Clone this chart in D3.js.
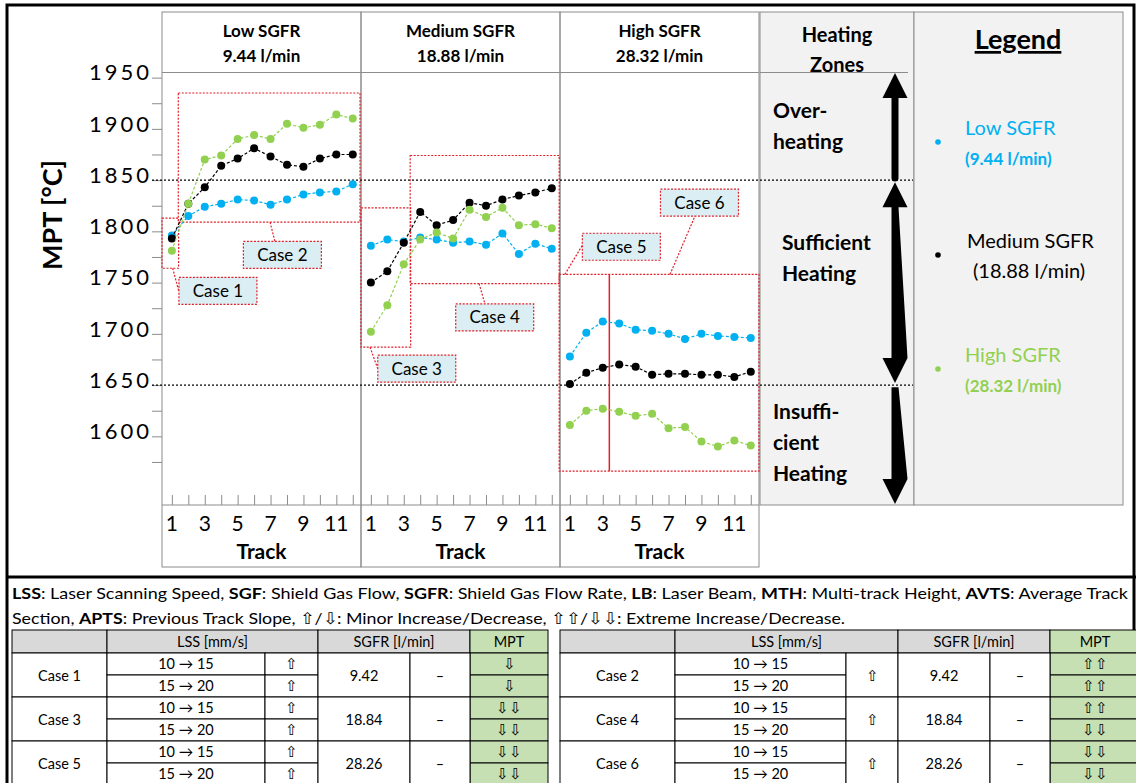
<!DOCTYPE html>
<html>
<head>
<meta charset="utf-8">
<script src="https://cdn.jsdelivr.net/npm/d3@7/dist/d3.min.js"></script>
<style>
body { margin: 0; background: #fff; }
text { font-family: Lato, "Open Sans", sans-serif; }
</style>
</head>
<body>
<div id="chart-area"></div>
<script>
// data
var tracks = [1, 2, 3, 4, 5, 6, 7, 8, 9, 10, 11, 12];
var trackLabels = [1, 3, 5, 7, 9, 11];
var panelTitles = ["Low SGFR", "Medium SGFR", "High SGFR"];
var panelRates = ["9.44 l/min", "18.88 l/min", "28.32 l/min"];

var lowPanelBlue  = [1796, 1815, 1824, 1827, 1831, 1830, 1826, 1831, 1836, 1838, 1839, 1846];
var lowPanelBlack = [1793, 1827, 1843, 1864, 1871, 1881, 1873, 1865, 1863, 1871, 1875, 1875];
var lowPanelGreen = [1781, 1827, 1870, 1874, 1890, 1894, 1890, 1905, 1901, 1904, 1914, 1910];

var medPanelBlue  = [1786, 1792, 1790, 1794, 1792, 1789, 1790, 1787, 1798, 1778, 1788, 1783];
var medPanelBlack = [1750, 1761, 1789, 1819, 1806, 1811, 1828, 1825, 1831, 1835, 1838, 1842];
var medPanelGreen = [1702, 1728, 1768, 1792, 1799, 1793, 1821, 1814, 1823, 1806, 1807, 1803];

var highPanelBlue  = [1678, 1701, 1712, 1710, 1704, 1703, 1700, 1695, 1700, 1698, 1697, 1696];
var highPanelBlack = [1651, 1662, 1667, 1670, 1668, 1660, 1661, 1661, 1660, 1660, 1658, 1663];
var highPanelGreen = [1611, 1625, 1627, 1624, 1620, 1622, 1608, 1609, 1595, 1590, 1596, 1591];

var yTicks = [1575, 1600, 1625, 1650, 1675, 1700, 1725, 1750, 1775, 1800, 1825, 1850, 1875, 1900, 1925, 1950];
var zoneLimits = [1850, 1650];

var legendNames = ["Low SGFR", "Medium SGFR", "High SGFR"];
var legendRates = ["(9.44 l/min)", "(18.88 l/min)", "(28.32 l/min)"];

var caseNamesLeft  = ["Case 1", "Case 3", "Case 5"];
var caseNamesRight = ["Case 2", "Case 4", "Case 6"];
var lssSteps = ["10 \u2192 15", "15 \u2192 20"];
var sgfrValues = ["9.42", "18.84", "28.26"];
var mptLeft  = [["\u21e9", "\u21e9"], ["\u21e9\u21e9", "\u21e9\u21e9"], ["\u21e9\u21e9", "\u21e9\u21e9"]];
var mptRight = [["\u21e7\u21e7", "\u21e7\u21e7"], ["\u21e7\u21e7", "\u21e9\u21e9"], ["\u21e9\u21e9", "\u21e9\u21e9"]];

var colors = { blue: "#00b0f0", black: "#000000", green: "#92d050" };
var gridGrey = "#8c8c8c";

var svgWidth = 1136, svgHeight = 783;
var panelLefts = [162, 361, 560];
var panelWidth = 199;
var headTop = 12, plotTop = 72.5, plotBottom = 505, axisBottom = 567;

var svg = d3.select("#chart-area").append("svg")
    .attr("width", svgWidth)
    .attr("height", svgHeight);

var y = d3.scaleLinear().domain([1533, 1955]).range([plotBottom, plotTop]);

var panelSeries = [
    [lowPanelBlue, lowPanelBlack, lowPanelGreen],
    [medPanelBlue, medPanelBlack, medPanelGreen],
    [highPanelBlue, highPanelBlack, highPanelGreen]
];
var seriesColors = [colors.blue, colors.black, colors.green];

var xScales = panelLefts.map(function(l) {
    return d3.scaleLinear().domain([0.4, 12.5]).range([l, l + panelWidth]);
});

// outer frame
svg.append("rect").attr("x", 7).attr("y", 5).attr("width", 1127).attr("height", 800)
    .attr("fill", "none").attr("stroke", "#000").attr("stroke-width", 3);
svg.append("line").attr("x1", 7).attr("x2", 1136).attr("y1", 577).attr("y2", 577)
    .attr("stroke", "#000").attr("stroke-width", 3);

// heating zones + legend background
svg.append("rect").attr("x", 760).attr("y", headTop).attr("width", 154).attr("height", plotBottom - headTop)
    .attr("fill", "#f2f2f2").attr("stroke", gridGrey);
svg.append("rect").attr("x", 914).attr("y", headTop).attr("width", 209).attr("height", plotBottom - headTop)
    .attr("fill", "#f2f2f2").attr("stroke", gridGrey);
svg.append("line").attr("x1", 760).attr("x2", 908).attr("y1", plotTop).attr("y2", plotTop)
    .attr("stroke", gridGrey);

// panel frames
panelLefts.forEach(function(l, i) {
    svg.append("rect").attr("x", l).attr("y", headTop).attr("width", panelWidth)
        .attr("height", axisBottom - headTop).attr("fill", "none").attr("stroke", gridGrey);
    svg.append("line").attr("x1", l).attr("x2", l + panelWidth)
        .attr("y1", plotTop).attr("y2", plotTop).attr("stroke", gridGrey);
    svg.append("line").attr("x1", l).attr("x2", l + panelWidth)
        .attr("y1", plotBottom).attr("y2", plotBottom).attr("stroke", gridGrey);
    svg.append("text").attr("x", l + panelWidth / 2).attr("y", 37)
        .attr("text-anchor", "middle").attr("font-size", "17px").attr("font-weight", "bold")
        .text(panelTitles[i]);
    svg.append("text").attr("x", l + panelWidth / 2).attr("y", 62)
        .attr("text-anchor", "middle").attr("font-size", "17px").attr("font-weight", "bold")
        .text(panelRates[i]);

    // x axis of each panel
    var xAxis = d3.axisTop(xScales[i]).tickValues(tracks).tickSize(10).tickFormat("");
    var g = svg.append("g").attr("transform", "translate(0," + plotBottom + ")").call(xAxis);
    g.select(".domain").remove();
    g.selectAll("line").attr("stroke", gridGrey);

    svg.append("g").selectAll("text").data(trackLabels).enter().append("text")
        .attr("x", function(d) { return xScales[i](d); })
        .attr("y", 531).attr("text-anchor", "middle").attr("font-size", "21px")
        .text(function(d) { return d; });
    svg.append("text").attr("x", l + panelWidth / 2).attr("y", 559)
        .attr("text-anchor", "middle").attr("font-size", "21px").attr("font-weight", "bold")
        .text("Track");
});

// y axis
var yAxis = d3.axisLeft(y).tickValues(yTicks).tickSize(10)
    .tickFormat(function(d) { return (d % 50 === 0) ? d : ""; });
var yg = svg.append("g").attr("transform", "translate(162,0)").call(yAxis);
yg.select(".domain").remove();
yg.selectAll("line").attr("stroke", gridGrey);
yg.selectAll("text").attr("font-size", "22px").attr("letter-spacing", "3px")
    .attr("font-family", "Lato, sans-serif").attr("fill", "#000").attr("x", -10).attr("dy", "0.1em");

svg.append("text").attr("transform", "translate(62,215) rotate(-90)")
    .attr("text-anchor", "middle").attr("font-size", "27px").attr("font-weight", "bold")
    .text("MPT [\u00b0C]");

// zone limit lines
svg.selectAll(".zone").data(zoneLimits).enter().append("line")
    .attr("x1", 152).attr("x2", 913)
    .attr("y1", function(d) { return y(d); }).attr("y2", function(d) { return y(d); })
    .attr("stroke", "#000").attr("stroke-width", 1.2).attr("stroke-dasharray", "2,2");

// case annotations (box in track/value units, label centre, connector)
var cases = [
    { p: 0, name: "Case 1", box: [0.4, 1.41, 1764, 1813], label: [3.8, 1742], link: [1.05, 1764, 1.43, 1741] },
    { p: 0, name: "Case 2", box: [1.39, 12.44, 1809, 1935], label: [7.72, 1777], link: [6.97, 1809, 7.27, 1790] },
    { p: 1, name: "Case 3", box: [0.4, 3.42, 1687, 1823], label: [3.79, 1666], link: [0.95, 1687, 1.44, 1665] },
    { p: 1, name: "Case 4", box: [3.39, 12.45, 1749, 1874], label: [8.53, 1716], link: [7.58, 1749, 7.94, 1729] },
    { p: 2, name: "Case 5", box: [0.35, 12.5, 1566, 1758], label: [4.13, 1785], link: [0.7, 1758, 1.74, 1786] },
    { p: 2, name: "Case 6", box: null, label: [8.88, 1828], link: [7.09, 1758, 8.61, 1815] }
];
var red = "#e0202a";
cases.forEach(function(c) {
    var xs = xScales[c.p];
    if (c.box) {
        svg.append("rect").attr("x", xs(c.box[0])).attr("y", y(c.box[3]))
            .attr("width", xs(c.box[1]) - xs(c.box[0])).attr("height", y(c.box[2]) - y(c.box[3]))
            .attr("fill", "none").attr("stroke", red).attr("stroke-width", 1.2).attr("stroke-dasharray", "2,1.5");
    }
    svg.append("line").attr("x1", xs(c.link[0])).attr("y1", y(c.link[1]))
        .attr("x2", xs(c.link[2])).attr("y2", y(c.link[3]))
        .attr("stroke", red).attr("stroke-width", 1.2).attr("stroke-dasharray", "2,1.5");
});
// case 5 / case 6 split
svg.append("line").attr("x1", xScales[2](3.4)).attr("x2", xScales[2](3.4))
    .attr("y1", y(1758)).attr("y2", y(1566)).attr("stroke", red).attr("stroke-width", 1.5);

// series
var line = d3.line();
panelSeries.forEach(function(series, p) {
    var xs = xScales[p];
    series.forEach(function(vals, s) {
        var pts = tracks.map(function(t, k) { return [xs(t), y(vals[k])]; });
        svg.append("path").attr("d", line(pts)).attr("fill", "none")
            .attr("stroke", seriesColors[s]).attr("stroke-width", 1.2).attr("stroke-dasharray", "3,2");
        svg.append("g").selectAll("circle").data(pts).enter().append("circle")
            .attr("cx", function(d) { return d[0]; }).attr("cy", function(d) { return d[1]; })
            .attr("r", 4).attr("fill", seriesColors[s]);
    });
});

// case labels on top
cases.forEach(function(c) {
    var cx = xScales[c.p](c.label[0]), cy = y(c.label[1]);
    svg.append("rect").attr("x", cx - 39).attr("y", cy - 13.5).attr("width", 78).attr("height", 27)
        .attr("fill", "#daeef3").attr("stroke", red).attr("stroke-width", 1.2).attr("stroke-dasharray", "2,1.5");
    svg.append("text").attr("x", cx).attr("y", cy + 6).attr("text-anchor", "middle")
        .attr("font-size", "17px").text(c.name);
});

// heating zones column
svg.append("text").attr("x", 837).attr("y", 42).attr("text-anchor", "middle")
    .attr("font-size", "20px").attr("font-weight", "bold").text("Heating");
svg.append("text").attr("x", 837).attr("y", 72).attr("text-anchor", "middle")
    .attr("font-size", "20px").attr("font-weight", "bold").text("Zones");

var zoneText = [
    { x: 773, lines: ["Over-", "heating"], y0: 118 },
    { x: 782, lines: ["Sufficient", "Heating"], y0: 250 },
    { x: 773, lines: ["Insuffi-", "cient", "Heating"], y0: 419 }
];
zoneText.forEach(function(z) {
    z.lines.forEach(function(t, k) {
        svg.append("text").attr("x", z.x).attr("y", z.y0 + k * 31)
            .attr("font-size", "21px").attr("font-weight", "bold").text(t);
    });
});

function arrowPath(x, yTop, yBot, headUp, headDown) {
    var hw = 12.5, hh = 25, sw = 3.5;
    var p = "";
    var top = headUp ? yTop + hh : yTop;
    var bot = headDown ? yBot - hh : yBot;
    p += "M" + (x - sw) + "," + top + "L" + (x - sw) + "," + bot;
    if (headDown) {
        p += "L" + (x - hw) + "," + bot + "L" + x + "," + yBot + "L" + (x + hw) + "," + bot;
    } else {
        p += "A" + sw + "," + sw + " 0 0 0 " + (x + sw) + "," + bot;
    }
    p += "L" + (x + sw) + "," + top;
    if (headUp) {
        p += "L" + (x + hw) + "," + top + "L" + x + "," + yTop + "L" + (x - hw) + "," + top;
    }
    return p + "Z";
}
var ax = 895;
svg.append("path").attr("d", arrowPath(ax, y(1955) + 0.5, y(1852), true, false)).attr("fill", "#000");
svg.append("path").attr("d", arrowPath(ax, y(1848), y(1652), true, true)).attr("fill", "#000");
svg.append("path").attr("d", arrowPath(ax, y(1648), plotBottom - 1, false, true)).attr("fill", "#000");

// legend column
svg.append("text").attr("x", 1018).attr("y", 49).attr("text-anchor", "middle")
    .attr("font-size", "27px").attr("font-weight", "bold").attr("text-decoration", "underline")
    .text("Legend");
var legendY = [128, 241, 355];
legendNames.forEach(function(n, i) {
    var c = seriesColors[i];
    svg.append("circle").attr("cx", 938).attr("cy", legendY[i] + 14).attr("r", 2.8).attr("fill", c);
    svg.append("text").attr("x", i === 1 ? 967 : 965).attr("y", legendY[i] + 7)
        .attr("font-size", "20px").attr("fill", c).text(n);
    svg.append("text").attr("x", i === 1 ? 973 : 965).attr("y", legendY[i] + 37)
        .attr("font-size", i === 1 ? "20px" : "17px").attr("font-weight", i === 1 ? "normal" : "bold")
        .attr("fill", c).text(legendRates[i]);
});

// footnote
var note1 = [["LSS", true], [": Laser Scanning Speed, ", false], ["SGF", true], [": Shield Gas Flow, ", false],
    ["SGFR", true], [": Shield Gas Flow Rate, ", false], ["LB", true], [": Laser Beam, ", false],
    ["MTH", true], [": Multi-track Height, ", false], ["AVTS", true], [": Average Track", false]];
var note2 = [["Section, ", false], ["APTS", true], [": Previous Track Slope, \u21e7/\u21e9: Minor Increase/Decrease, \u21e7\u21e7/\u21e9\u21e9: Extreme Increase/Decrease.", false]];
function noteLine(parts, yy, len) {
    var t = svg.append("text").attr("x", 12).attr("y", yy)
        .attr("font-family", "'Liberation Sans Narrow', 'DejaVu Sans Condensed', sans-serif")
        .attr("font-size", "16px");
    if (len) t.attr("textLength", len).attr("lengthAdjust", "spacingAndGlyphs");
    parts.forEach(function(p) {
        t.append("tspan").attr("font-weight", p[1] ? "bold" : "normal").text(p[0]);
    });
}
noteLine(note1, 599, 1116);
noteLine(note2, 624, 833);

// tables
function drawTable(cols, names, mpt, mergedArrow) {
    var rowTop = 630, headH = 23, rowH = 22;
    var g = svg.append("g").attr("font-size", "14.5px");
    function cell(x0, x1, y0, y1, fill) {
        g.append("rect").attr("x", x0).attr("y", y0).attr("width", x1 - x0).attr("height", y1 - y0)
            .attr("fill", fill || "#fff").attr("stroke", "#000").attr("stroke-width", 1);
    }
    function txt(x, yy, s) {
        g.append("text").attr("x", x).attr("y", yy).attr("text-anchor", "middle")
            .attr("font-family", "Lato, 'DejaVu Sans', sans-serif").text(s);
    }
    cell(cols[0], cols[1], rowTop, rowTop + headH, "#d9d9d9");
    cell(cols[1], cols[3], rowTop, rowTop + headH, "#d9d9d9");
    cell(cols[3], cols[5], rowTop, rowTop + headH, "#d9d9d9");
    cell(cols[5], cols[6], rowTop, rowTop + headH, "#c6e0b4");
    txt((cols[1] + cols[3]) / 2, rowTop + 17, "LSS [mm/s]");
    txt((cols[3] + cols[5]) / 2, rowTop + 17, "SGFR [l/min]");
    txt((cols[5] + cols[6]) / 2, rowTop + 17, "MPT");
    names.forEach(function(n, i) {
        var y0 = rowTop + headH + i * rowH * 2, ym = y0 + rowH, y1 = y0 + 2 * rowH;
        cell(cols[0], cols[1], y0, y1);
        txt((cols[0] + cols[1]) / 2, ym + 6, n);
        lssSteps.forEach(function(s, k) {
            var a = y0 + k * rowH;
            cell(cols[1], cols[2], a, a + rowH);
            txt((cols[1] + cols[2]) / 2, a + 16, s);
            if (!mergedArrow) {
                cell(cols[2], cols[3], a, a + rowH);
                txt((cols[2] + cols[3]) / 2, a + 16, "\u21e7");
            }
            cell(cols[5], cols[6], a, a + rowH, "#c6e0b4");
            txt((cols[5] + cols[6]) / 2, a + 16, mpt[i][k]);
        });
        if (mergedArrow) {
            cell(cols[2], cols[3], y0, y1);
            txt((cols[2] + cols[3]) / 2, ym + 6, "\u21e7");
        }
        cell(cols[3], cols[4], y0, y1);
        txt((cols[3] + cols[4]) / 2, ym + 6, sgfrValues[i]);
        cell(cols[4], cols[5], y0, y1);
        txt((cols[4] + cols[5]) / 2, ym + 6, "\u2013");
    });
}
drawTable([12, 107, 265, 318, 410, 470, 548], caseNamesLeft, mptLeft, false);
drawTable([560, 675, 846, 898, 990, 1050, 1140], caseNamesRight, mptRight, true);
</script>
</body>
</html>
